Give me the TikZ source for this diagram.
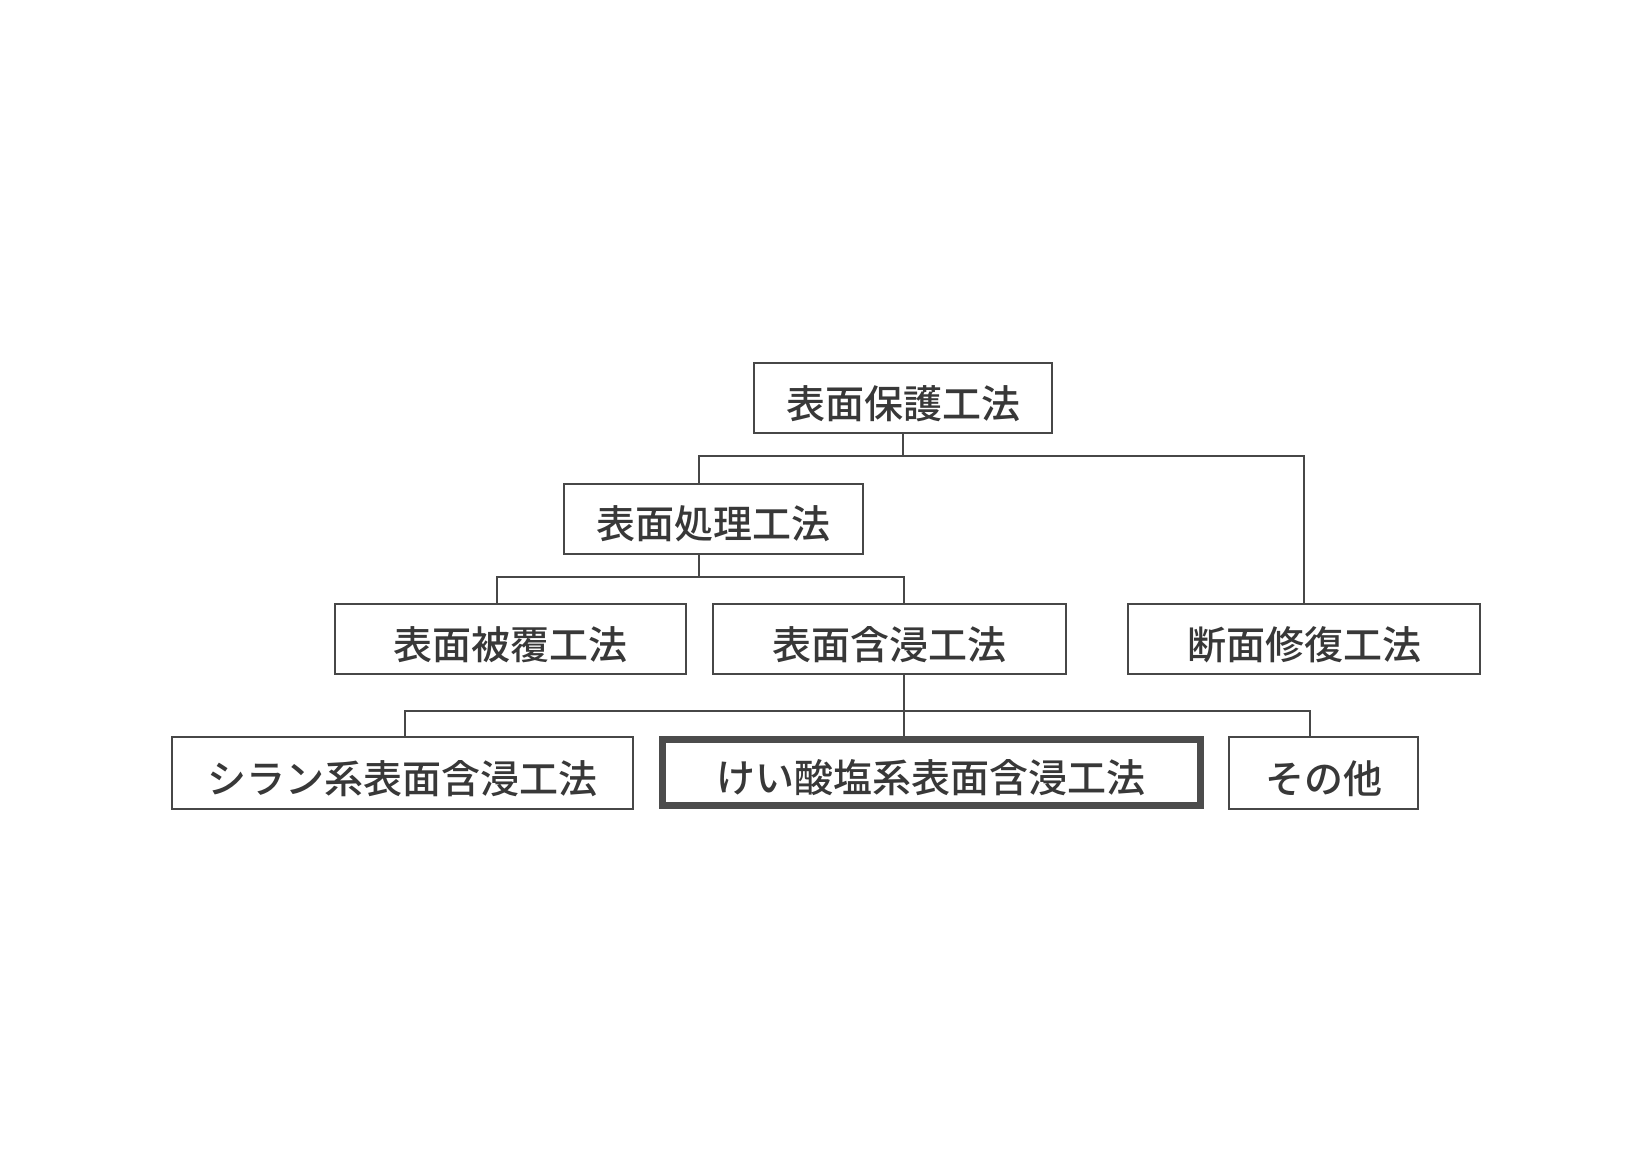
\documentclass[tikz,border=0pt]{standalone}
\usepackage{fontspec}
\newfontfamily\jpfont{Noto Sans CJK JP Medium}
\usetikzlibrary{positioning,calc}
\tikzset{
  methbox/.style={rectangle, draw=black!72, line width=1pt, align=center,
                  inner sep=0pt, minimum height=35pt, text=black!78,
                  text height=20pt, text depth=0pt,
                  font=\jpfont\fontsize{19.5}{23}\selectfont},
  keybox/.style={methbox, draw=black!70, line width=3.5pt},
  treeline/.style={draw=black!72, line width=1pt},
}
\begin{document}
\begin{tikzpicture}[x=0.5pt, y=-0.5pt]
    \fill[white] (0,0) rectangle (1626,1150);
    \useasboundingbox (0,0) rectangle (1626,1150);
    \node[methbox, minimum width=149pt] (root)     at (903,398)   {表面保護工法};
    \node[methbox, minimum width=149.5pt] (proc)   at (713.5,518.5) {表面処理工法};
    \node[methbox, minimum width=175.5pt] (cover)  at (510.5,639) {表面被覆工法};
    \node[methbox, minimum width=176.5pt] (impreg) at (889.5,639) {表面含浸工法};
    \node[methbox, minimum width=176pt] (repair)   at (1304,639)  {断面修復工法};
    \node[methbox, minimum width=230.5pt, minimum height=36pt] (silane) at (402.5,773) {シラン系表面含浸工法};
    \node[keybox, minimum width=269pt, minimum height=33pt] (silicate) at (931,772.5) {けい酸塩系表面含浸工法};
    \node[methbox, minimum width=94.5pt, minimum height=36pt] (other) at (1323.5,773) {その他};
    % bus lines of the tree
    \coordinate (b1l) at (699,456);
    \coordinate (b1r) at (1304,456);
    \coordinate (b2l) at (497,577);
    \coordinate (b2r) at (904,577);
    \coordinate (b3l) at (405,711);
    \coordinate (b3r) at (1310,711);
    \draw[treeline] (root.south) -- (root.south |- b1l);
    \draw[treeline] (b1l |- proc.north) -- (b1l) -- (b1r) -- (repair.north);
    \draw[treeline] (proc.south -| b1l) -- (b1l |- b2l);
    \draw[treeline] (b2l |- cover.north) -- (b2l) -- (b2r) -- (b2r |- impreg.north);
    \draw[treeline] (impreg.south -| b2r) -- (b2r |- silicate.north);
    \draw[treeline] (b3l |- silane.north) -- (b3l) -- (b3r) -- (b3r |- other.north);
\end{tikzpicture}
\end{document}
